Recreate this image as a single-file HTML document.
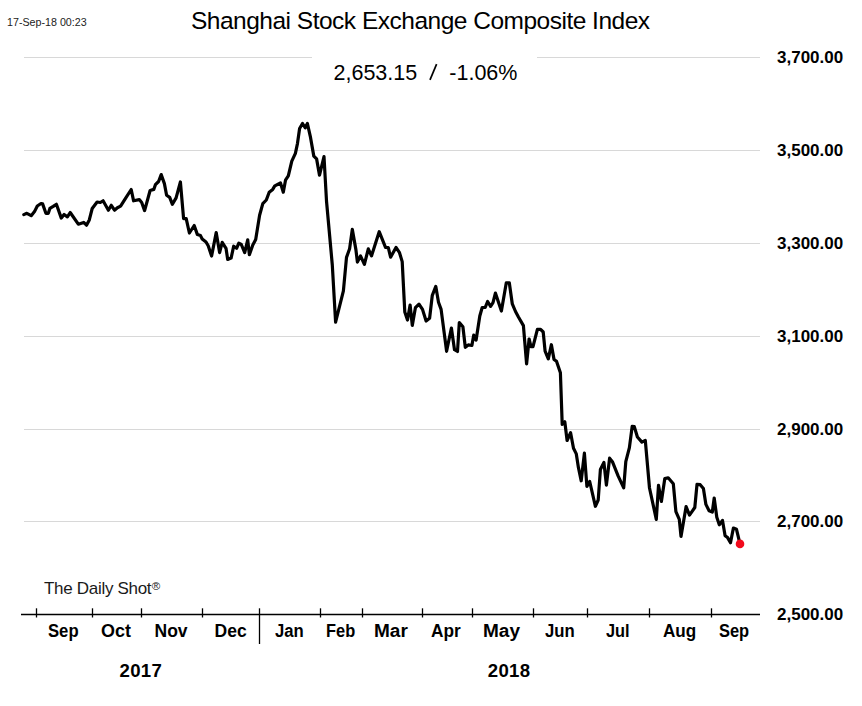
<!DOCTYPE html>
<html><head><meta charset="utf-8">
<style>
html,body{margin:0;padding:0;background:#fff;}
body{width:862px;height:706px;position:relative;overflow:hidden;font-family:"Liberation Sans",sans-serif;color:#000;}
.t{position:absolute;white-space:nowrap;line-height:1;}
.b{font-weight:bold;}
svg{position:absolute;left:0;top:0;}
</style></head><body>
<svg width="862" height="706" viewBox="0 0 862 706">
<g stroke="#d8d8d8" stroke-width="1">
<line x1="24" y1="57.5" x2="312" y2="57.5"/>
<line x1="537" y1="57.5" x2="760" y2="57.5"/>
<line x1="24" y1="150.5" x2="760" y2="150.5"/>
<line x1="24" y1="243.5" x2="760" y2="243.5"/>
<line x1="24" y1="336.5" x2="760" y2="336.5"/>
<line x1="24" y1="429.5" x2="760" y2="429.5"/>
<line x1="24" y1="521.5" x2="760" y2="521.5"/>
</g>
<g stroke="#000" stroke-width="1.3">
<line x1="21" y1="614.5" x2="760" y2="614.5"/>
<line x1="36.5" y1="608.3" x2="36.5" y2="617.5"/>
<line x1="92.5" y1="608.3" x2="92.5" y2="617.5"/>
<line x1="141.5" y1="608.3" x2="141.5" y2="617.5"/>
<line x1="202.5" y1="608.3" x2="202.5" y2="617.5"/>
<line x1="259.5" y1="608.3" x2="259.5" y2="644"/>
<line x1="320.5" y1="608.3" x2="320.5" y2="617.5"/>
<line x1="362.5" y1="608.3" x2="362.5" y2="617.5"/>
<line x1="422.5" y1="608.3" x2="422.5" y2="617.5"/>
<line x1="472.5" y1="608.3" x2="472.5" y2="617.5"/>
<line x1="533.5" y1="608.3" x2="533.5" y2="617.5"/>
<line x1="587.5" y1="608.3" x2="587.5" y2="617.5"/>
<line x1="649.5" y1="608.3" x2="649.5" y2="617.5"/>
<line x1="711.5" y1="608.3" x2="711.5" y2="617.5"/>
</g>
<polyline id="ln" fill="none" stroke="#000" stroke-width="3.2" stroke-linejoin="round" stroke-linecap="round" points="23.8,214.6 26.8,213.3 31.2,215.7 34.5,211.6 37.3,206 41,203.5 42.6,203.9 45.9,213.3 48.3,213.3 49.9,208.4 53.2,206.4 56.4,204.3 61.3,218.1 64.1,214.5 67.4,216.9 70.2,212.5 78.3,224.2 83.7,222.4 86.5,225.2 89.3,219.9 92.2,208.5 97.1,202 100.3,202.5 103.1,200.8 108.4,210.2 111.3,205.3 114.5,210.2 117.4,207.7 120.6,206.1 125.5,198.4 131.2,189.5 133.6,200.8 139.3,199.6 141.7,202.5 144.6,210.6 150.1,190.5 153.8,189.4 155.4,184.7 158.6,181.5 161.2,174.6 164.4,183.6 166.6,195.3 169.7,197.4 172.4,204.3 176.1,197.9 180.4,182 183.6,218.6 186.2,218.6 189.4,233 194.2,225.5 197.4,234.6 200.5,235.6 202.2,239 206,242 208.2,245.8 211.6,256 216.2,232.6 219.6,252.6 222.2,242.4 226,248.3 227.7,259.4 231.1,258.1 233.7,246.2 236.6,248.3 238.8,243.2 241.3,244.5 244.7,252.6 247.7,239.8 249.4,254.7 252.8,244.9 255.7,239.4 259.6,215.2 262.8,203.6 266.3,200 269.2,192.2 272.7,189.4 274.8,185.9 280.5,183 283.3,192.2 285.5,180.2 288.3,175.9 291.8,161.1 295.4,153.3 297.5,143.3 299.6,128.5 302.5,123.5 305.3,127.8 307.4,123.5 310.3,136.3 313.8,156.1 316.6,158.9 319.5,175.2 324,156.6 326.5,201 332.3,265 335.6,322.1 343.4,290.9 346.5,257.4 349.6,248.8 352.3,229.4 355.9,249.6 357.4,262.1 360.5,255.9 364.4,264.4 368.3,248.8 371.5,255.9 379.2,231.7 385.5,247.3 388.3,247.7 390.6,257.2 396,247.4 399.5,252.7 402.2,261.6 404.8,312.1 407.5,320.1 410.1,305 412.3,325.4 415.4,307.7 419,304.1 422.5,309.4 426.1,321 429.6,318.3 432.3,295.3 435.8,286.4 438.5,302.3 441.1,309.4 446.6,351.3 451.4,328 454.5,349.7 457.5,351.5 459.3,322.6 462.9,326.8 465.3,347.3 468.3,344.9 471.9,345.5 473.7,335.2 476.1,340.1 479.8,316 482.2,307.5 485.2,307.5 487.6,301.5 490.6,306.3 493,302.7 495.4,293.1 501.4,311.1 506.3,282.8 509.3,282.8 512.3,303.9 515.5,311.5 518.3,316.7 523.4,325.6 526.6,363.9 529.1,339 531,346.6 533,346.6 537.4,329.4 540.6,329.4 543.2,332 545.1,351.1 548.3,358.8 551.4,344.7 554,359.4 556.5,361.3 560.4,372.8 562.2,424.4 564.8,421.8 567.1,440.5 570.6,432.7 573.5,448.3 576.3,453.9 578.4,467.4 581.2,480.8 584.4,453.2 586.9,486.5 589.7,481.5 595.4,506.3 598.2,500 600.4,469.5 603.9,462.4 606.4,485.1 609.6,458.2 612.4,461.7 618.1,475.9 623.7,487.9 625.8,461.7 629.4,447.6 632.2,426.3 634.3,426.6 637.4,437 641.9,442.1 645.3,440.4 649.5,488 656.3,519.4 658.5,485.4 661.4,501.5 664.8,478.6 668.2,477.8 673.3,483.7 675.9,511.7 679.3,519.4 681,536.4 686.1,506.6 689.5,515.1 694.8,507.5 697,484.3 700.2,484.7 703.4,488.5 705.9,504.4 709.1,510.8 712.3,512.1 714.2,498 716.8,517.2 719.3,524.8 722.5,520.4 725.1,535.7 727.6,537.6 730.5,542.7 733.4,528 736.5,529.3 739.7,542.7"/>
<line x1="430" y1="79.8" x2="436.6" y2="64.2" stroke="#000" stroke-width="1.7"/>
<circle cx="740" cy="543.9" r="4.3" fill="#f20a1c"/>
</svg>
<div class="t" style="left:7px;top:17.2px;font-size:10.7px;color:#222">17-Sep-18 00:23</div>
<div class="t" style="left:191px;top:9px;font-size:24.5px;letter-spacing:-0.5px;">Shanghai Stock Exchange Composite Index</div>
<div class="t" style="left:333.5px;top:62.7px;font-size:21.5px;">2,653.15</div>
<div class="t" style="left:449.3px;top:62.7px;font-size:21.5px;">-1.06%</div>
<div class="t b" style="left:777px;top:49.4px;font-size:17px;">3,700.00</div>
<div class="t b" style="left:777px;top:142.2px;font-size:17px;">3,500.00</div>
<div class="t b" style="left:777px;top:235px;font-size:17px;">3,300.00</div>
<div class="t b" style="left:777px;top:327.8px;font-size:17px;">3,100.00</div>
<div class="t b" style="left:777px;top:420.6px;font-size:17px;">2,900.00</div>
<div class="t b" style="left:777px;top:513.4px;font-size:17px;">2,700.00</div>
<div class="t b" style="left:777px;top:606.3px;font-size:17px;">2,500.00</div>
<div class="t" style="left:44px;top:580.2px;font-size:17px;letter-spacing:-0.3px;color:#1a1a1a">The Daily Shot<span style="font-size:11.5px;position:relative;top:-4px;margin-left:0.5px">®</span></div>
<div class="t b" style="left:47.95px;top:623.2px;font-size:17.5px;transform:scaleX(0.952);transform-origin:0 0;">Sep</div>
<div class="t b" style="left:101.07px;top:623.2px;font-size:17.5px;transform:scaleX(1.025);transform-origin:0 0;">Oct</div>
<div class="t b" style="left:154.50px;top:623.2px;font-size:17.5px;">Nov</div>
<div class="t b" style="left:214.61px;top:623.2px;font-size:17.5px;">Dec</div>
<div class="t b" style="left:274.95px;top:623.2px;font-size:17.5px;transform:scaleX(0.954);transform-origin:0 0;">Jan</div>
<div class="t b" style="left:325.86px;top:623.2px;font-size:17.5px;transform:scaleX(0.937);transform-origin:0 0;">Feb</div>
<div class="t b" style="left:374.31px;top:623.2px;font-size:17.5px;transform:scaleX(1.087);transform-origin:0 0;">Mar</div>
<div class="t b" style="left:431.21px;top:623.2px;font-size:17.5px;transform:scaleX(0.986);transform-origin:0 0;">Apr</div>
<div class="t b" style="left:483.41px;top:623.2px;font-size:17.5px;transform:scaleX(1.088);transform-origin:0 0;">May</div>
<div class="t b" style="left:544.64px;top:623.2px;font-size:17.5px;transform:scaleX(0.955);transform-origin:0 0;">Jun</div>
<div class="t b" style="left:605.87px;top:623.2px;font-size:17.5px;transform:scaleX(0.935);transform-origin:0 0;">Jul</div>
<div class="t b" style="left:663.32px;top:623.2px;font-size:17.5px;transform:scaleX(0.978);transform-origin:0 0;">Aug</div>
<div class="t b" style="left:718.76px;top:623.2px;font-size:17.5px;transform:scaleX(0.939);transform-origin:0 0;">Sep</div>
<div class="t b" style="left:119.5px;top:661.8px;font-size:18.6px;letter-spacing:0.3px;">2017</div>
<div class="t b" style="left:487.8px;top:661.8px;font-size:18.6px;letter-spacing:0.3px;">2018</div>
</body></html>
